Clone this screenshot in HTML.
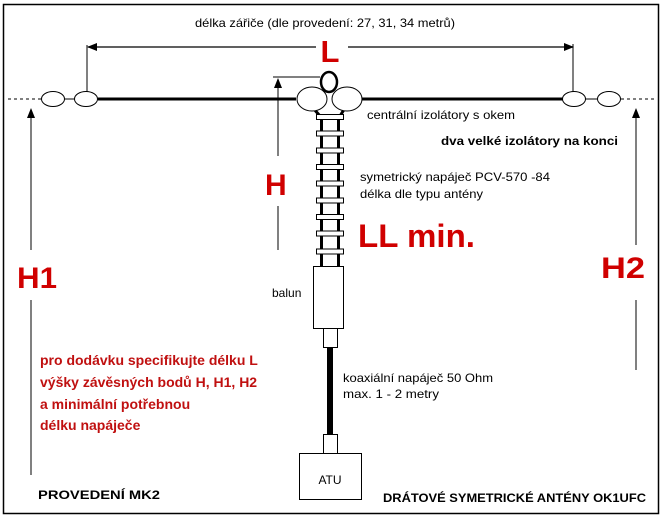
<!DOCTYPE html>
<html><head><meta charset="utf-8"><style>
html,body{margin:0;padding:0;background:#fff}
svg{display:block}
text{font-family:"Liberation Sans",Arial,sans-serif}
</style></head><body>
<svg width="663" height="517" viewBox="0 0 663 517" xmlns="http://www.w3.org/2000/svg">
<defs>
<marker id="ah" markerWidth="10" markerHeight="8" refX="9" refY="4" orient="auto" markerUnits="userSpaceOnUse">
<path d="M0,0 L10,4 L0,8 Z" fill="#000"/></marker>
</defs>
<rect x="3.5" y="4.5" width="655" height="509" fill="#fff" stroke="#000" stroke-width="1.5"/>
<text x="195" y="27" font-size="12" textLength="260" lengthAdjust="spacingAndGlyphs">délka zářiče (dle provedení: 27, 31, 34 metrů)</text>
<!-- L dimension -->
<line x1="316" y1="47" x2="88" y2="47" stroke="#000" stroke-width="1.2" marker-end="url(#ah)"/>
<line x1="348" y1="47" x2="573" y2="47" stroke="#000" stroke-width="1.2" marker-end="url(#ah)"/>
<line x1="87" y1="45" x2="87" y2="92" stroke="#000"/>
<line x1="573" y1="44" x2="573" y2="92" stroke="#000"/>
<text x="330" y="62" font-size="31" font-weight="bold" fill="#d00000" text-anchor="middle">L</text>
<!-- wire -->
<line x1="8" y1="99" x2="42" y2="99" stroke="#000" stroke-dasharray="3,3"/>
<line x1="621" y1="99" x2="656" y2="99" stroke="#000" stroke-dasharray="3,3"/>
<line x1="64" y1="99" x2="75" y2="99" stroke="#000"/>
<line x1="585" y1="99" x2="598" y2="99" stroke="#000"/>
<line x1="98" y1="99" x2="296" y2="99" stroke="#000" stroke-width="3"/>
<line x1="362" y1="99" x2="563" y2="99" stroke="#000" stroke-width="3"/>
<ellipse cx="53" cy="99" rx="11.5" ry="7.5" fill="#fff" stroke="#000"/>
<ellipse cx="86" cy="99" rx="11.5" ry="7.5" fill="#fff" stroke="#000"/>
<ellipse cx="574" cy="99" rx="11.5" ry="7.5" fill="#fff" stroke="#000"/>
<ellipse cx="609" cy="99" rx="11.5" ry="7.5" fill="#fff" stroke="#000"/>
<!-- center -->
<line x1="313" y1="108" x2="320" y2="116" stroke="#000" stroke-width="3"/>
<line x1="345" y1="108" x2="340" y2="116" stroke="#000" stroke-width="3"/>
<ellipse cx="312" cy="99" rx="15" ry="12" fill="#fff" stroke="#000"/>
<ellipse cx="347" cy="99" rx="15" ry="12" fill="#fff" stroke="#000"/>
<ellipse cx="329" cy="82" rx="8" ry="10" fill="#fff" stroke="#000" stroke-width="2.5"/>
<!-- ladder -->
<rect x="320" y="116" width="3" height="150" fill="#000"/>
<rect x="337" y="116" width="3" height="150" fill="#000"/>
<g fill="#fff" stroke="#000" stroke-width="1">
<rect x="316.5" y="114.5" width="27" height="5"/>
<rect x="316.5" y="131" width="27" height="5"/>
<rect x="316.5" y="148" width="27" height="5"/>
<rect x="316.5" y="164.5" width="27" height="5"/>
<rect x="316.5" y="181" width="27" height="5"/>
<rect x="316.5" y="198" width="27" height="5"/>
<rect x="316.5" y="214.5" width="27" height="5"/>
<rect x="316.5" y="231" width="27" height="5"/>
<rect x="316.5" y="249" width="27" height="5"/>
</g>
<!-- balun & coax -->
<rect x="313.5" y="266.5" width="30" height="62" fill="#fff" stroke="#000"/>
<rect x="323.5" y="328.5" width="14" height="19" fill="#fff" stroke="#000"/>
<rect x="327" y="348" width="6" height="87" fill="#000"/>
<rect x="323.5" y="434.5" width="14" height="19" fill="#fff" stroke="#000"/>
<rect x="299.5" y="453.5" width="62" height="46" fill="#fff" stroke="#000"/>
<text x="330" y="484" font-size="12" text-anchor="middle">ATU</text>
<text x="272" y="297" font-size="12">balun</text>
<text x="343" y="382" font-size="12" textLength="150" lengthAdjust="spacingAndGlyphs">koaxiální napáječ 50 Ohm</text>
<text x="343" y="398" font-size="12" textLength="96" lengthAdjust="spacingAndGlyphs">max. 1 - 2 metry</text>
<!-- H -->
<line x1="273" y1="77" x2="320" y2="77" stroke="#000"/>
<line x1="278" y1="156" x2="278" y2="79" stroke="#000" marker-end="url(#ah)"/>
<line x1="278" y1="206" x2="278" y2="250" stroke="#000"/>
<text x="265" y="195" font-size="30" font-weight="bold" fill="#d00000">H</text>
<!-- labels -->
<text x="367" y="119" font-size="12" textLength="148" lengthAdjust="spacingAndGlyphs">centrální izolátory s okem</text>
<text x="441" y="145" font-size="12" font-weight="bold" textLength="177" lengthAdjust="spacingAndGlyphs">dva velké izolátory na konci</text>
<text x="360" y="181" font-size="12" textLength="190" lengthAdjust="spacingAndGlyphs">symetrický napáječ PCV-570 -84</text>
<text x="360" y="198" font-size="12" textLength="123" lengthAdjust="spacingAndGlyphs">délka dle typu antény</text>
<text x="358" y="247" font-size="32" font-weight="bold" fill="#d00000" textLength="117" lengthAdjust="spacingAndGlyphs">LL min.</text>
<!-- H1 / H2 -->
<line x1="31" y1="250" x2="31" y2="109" stroke="#000" marker-end="url(#ah)"/>
<line x1="31" y1="300" x2="31" y2="475" stroke="#000"/>
<text x="17" y="288" font-size="30" font-weight="bold" fill="#d00000" textLength="40" lengthAdjust="spacingAndGlyphs">H1</text>
<line x1="636" y1="245" x2="636" y2="109" stroke="#000" marker-end="url(#ah)"/>
<line x1="636" y1="300" x2="636" y2="370" stroke="#000"/>
<text x="601" y="278" font-size="30" font-weight="bold" fill="#d00000" textLength="44" lengthAdjust="spacingAndGlyphs">H2</text>
<!-- red spec text -->
<g font-size="14" font-weight="bold" fill="#c01010">
<text x="40" y="365">pro dodávku specifikujte délku L</text>
<text x="40" y="387">výšky závěsných bodů H, H1, H2</text>
<text x="40" y="409">a minimální potřebnou</text>
<text x="40" y="430">délku napáječe</text>
</g>
<text x="38" y="499" font-size="12" font-weight="bold" textLength="122" lengthAdjust="spacingAndGlyphs">PROVEDENÍ MK2</text>
<text x="383" y="502" font-size="12" font-weight="bold" textLength="263" lengthAdjust="spacingAndGlyphs">DRÁTOVÉ SYMETRICKÉ ANTÉNY OK1UFC</text>
</svg>
</body></html>
